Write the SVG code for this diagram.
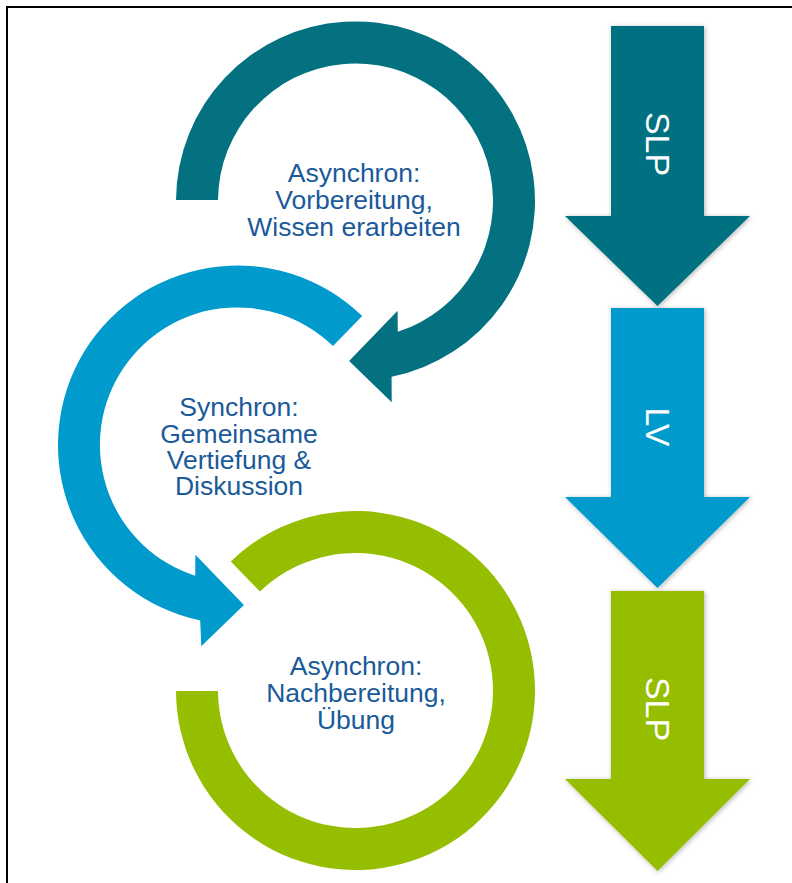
<svg xmlns="http://www.w3.org/2000/svg" width="792" height="883" viewBox="0 0 792 883">
  <style>
    .label { font-family: "Liberation Sans", Arial, sans-serif; font-size: 25px; fill: #1A5A9A; text-anchor: middle; }
    .vlabel { font-family: "Liberation Sans", Arial, sans-serif; font-size: 34px; fill: #FFFFFF; text-anchor: middle; }
    .teal { fill: #037180; }
    .blue { fill: #009BCC; }
    .green { fill: #96BE00; }
  </style>
  <defs>
    <filter id="soft" x="-20%" y="-10%" width="140%" height="120%">
      <feDropShadow dx="1" dy="1" stdDeviation="2.5" flood-color="#000" flood-opacity="0.3"/>
    </filter>
  </defs>

  <rect width="792" height="883" fill="#FFFFFF"/>
  <!-- frame -->
  <path d="M7,883 V7 H792" fill="none" stroke="#000" stroke-width="2"/>

  <!-- cycle rings -->
  <g id="ring-prep">
    <path class="teal" d="M176,200 A179.5,179.5 0 1 1 391.6,376.8 L391.7,402.3 L349.1,360.9 L397.6,310.7 L397.8,331.8 A137.5,137.5 0 1 0 218,200 Z"/>
    <g transform="translate(354,0) scale(1.06,1)">
      <text class="label" x="0" y="182">Asynchron:</text>
      <text class="label" x="0" y="209">Vorbereitung,</text>
      <text class="label" x="0" y="236">Wissen erarbeiten</text>
    </g>
  </g>

  <g id="ring-sync">
    <path class="blue" d="M362.2,315.9 A179.5,179.5 0 1 0 200.2,620.6 L201.3,646.3 L243.9,604.9 L195.4,554.7 L195.2,575.8 A137.5,137.5 0 1 1 333,346.1 Z"/>
    <g transform="translate(239,0) scale(1.06,1)">
      <text class="label" x="0" y="416">Synchron:</text>
      <text class="label" x="0" y="443">Gemeinsame</text>
      <text class="label" x="0" y="469">Vertiefung &amp;</text>
      <text class="label" x="0" y="495">Diskussion</text>
    </g>
  </g>

  <g id="ring-post">
    <path class="green" d="M176,691 A179.5,179.5 0 1 0 230.8,561.4 L260,591.6 A137.5,137.5 0 1 1 218,691 Z"/>
    <g transform="translate(356,0) scale(1.06,1)">
      <text class="label" x="0" y="675">Asynchron:</text>
      <text class="label" x="0" y="702">Nachbereitung,</text>
      <text class="label" x="0" y="729">Übung</text>
    </g>
  </g>

  <!-- phase arrows -->
  <g id="phase-slp-1">
    <polygon class="teal" filter="url(#soft)" points="611,26 704,26 704,216 750,216 657.5,306 565,216 611,216"/>
    <text class="vlabel" transform="translate(657.5,144) rotate(90)" y="12">SLP</text>
  </g>
  <g id="phase-lv">
    <polygon class="blue" filter="url(#soft)" points="611,308 704,308 704,497 750,497 657.5,588 565,497 611,497"/>
    <text class="vlabel" transform="translate(657.5,427) rotate(90)" y="12">LV</text>
  </g>
  <g id="phase-slp-2">
    <polygon class="green" filter="url(#soft)" points="611,591 704,591 704,779 750,779 657.5,871 565,779 611,779"/>
    <text class="vlabel" transform="translate(657.5,709) rotate(90)" y="12">SLP</text>
  </g>
</svg>
